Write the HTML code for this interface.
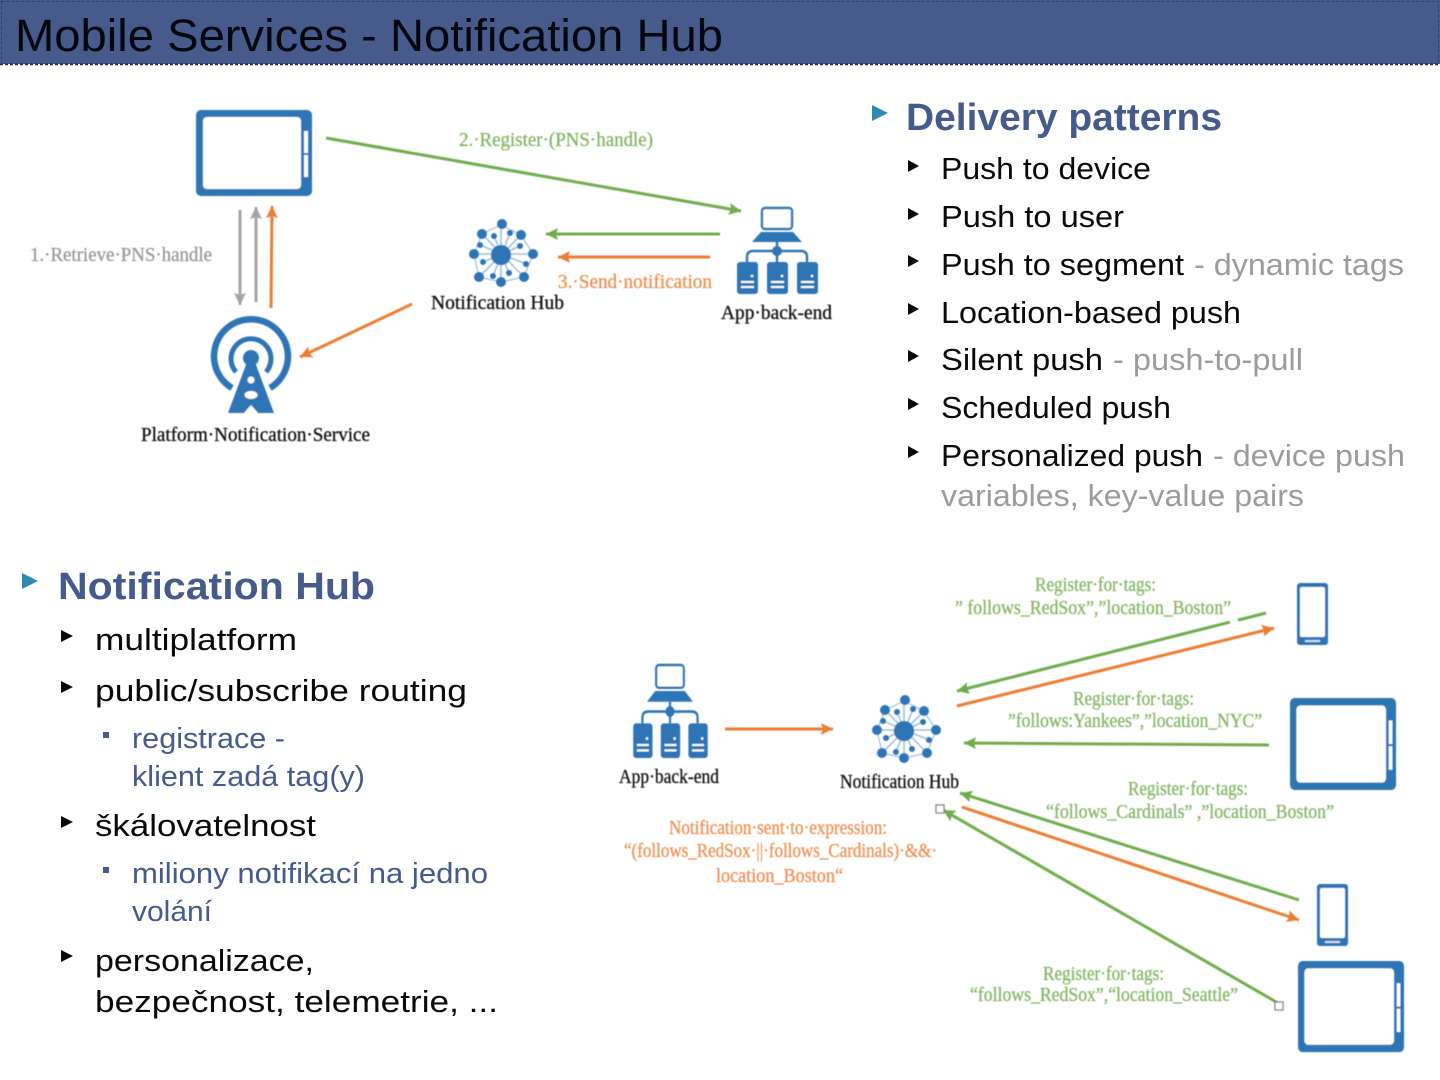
<!DOCTYPE html>
<html><head><meta charset="utf-8"><title>Mobile Services - Notification Hub</title>
<style>
html,body{margin:0;padding:0;background:#fff;width:1440px;height:1080px;overflow:hidden}
svg{display:block}
.h{font:38px "Liberation Sans",sans-serif;fill:#465a8c;font-weight:700}
.t{font:31px "Liberation Sans",sans-serif;fill:#0a0a0a}
.g{font:31px "Liberation Sans",sans-serif;fill:#9c9c9c}
.s{font:29px "Liberation Sans",sans-serif;fill:#465a8c}
.l{font:20px "Liberation Serif",serif;stroke-width:.3}
.k{fill:#111;stroke:#111}.gr{fill:#84b566;stroke:#84b566}.o{fill:#ee8f50;stroke:#ee8f50}.y{fill:#999;stroke:#999}
.ln{stroke-width:3;fill:none}
</style></head><body>
<svg width="1440" height="1080" viewBox="0 0 1440 1080" xmlns="http://www.w3.org/2000/svg">
<defs>
<marker id="ag" markerUnits="userSpaceOnUse" markerWidth="14" markerHeight="12" refX="12" refY="6" orient="auto"><path d="M0,0L12,6L0,12L2,6z" fill="#6fad4b"/></marker>
<marker id="ao" markerUnits="userSpaceOnUse" markerWidth="14" markerHeight="12" refX="12" refY="6" orient="auto"><path d="M0,0L12,6L0,12L2,6z" fill="#ed7d31"/></marker>
<marker id="ay" markerUnits="userSpaceOnUse" markerWidth="14" markerHeight="12" refX="12" refY="6" orient="auto"><path d="M0,0L12,6L0,12L2,6z" fill="#a5a5a5"/></marker>
<filter id="b" x="-5%" y="-5%" width="110%" height="110%"><feGaussianBlur stdDeviation="0.4"/></filter>
<g id="tablet">
<rect x="0" y="0" width="116" height="86" rx="5" fill="#2e75b6"/>
<rect x="7" y="7" width="98" height="72" rx="4" fill="#fff"/>
<rect x="108" y="21" width="4" height="22" fill="#fff"/><rect x="108" y="45" width="4" height="22" fill="#fff"/>
</g>
<g id="phone">
<rect x="0" y="0" width="31" height="62" rx="3" fill="#2e75b6"/>
<rect x="3" y="4" width="25" height="50" rx="2" fill="#fff"/>
<rect x="8" y="57" width="15" height="2" fill="#cfe0f0"/>
</g>
<g id="hub" fill="#2e75b6">
<g stroke="#9dc0e0" stroke-width="1.6" fill="none">
<path d="M0,-30V27M-27,-1H32M-19,-21L23,22M20,-20L-22,22"/>
<path d="M-7,-19L8,18M-21,-10L25,9M9,-22L-8,21M19,-9L-18,7"/>
<path d="M0,-30L20,-20L32,-1L23,22L0,27L-22,22L-27,-1L-19,-21z" stroke-width="1.2"/>
</g>
<circle r="10"/>
<circle cx="1" cy="-31" r="5"/><circle cx="20" cy="-20" r="5"/><circle cx="32" cy="-1" r="5"/><circle cx="23" cy="22" r="5"/>
<circle cx="0" cy="27" r="5"/><circle cx="-22" cy="22" r="5"/><circle cx="-27" cy="-1" r="5"/><circle cx="-19" cy="-21" r="5"/>
<circle cx="-7" cy="-19" r="3"/><circle cx="9" cy="-22" r="3"/><circle cx="19" cy="-9" r="3"/><circle cx="25" cy="9" r="3"/>
<circle cx="8" cy="18" r="3"/><circle cx="-8" cy="21" r="3"/><circle cx="-18" cy="7" r="3"/><circle cx="-21" cy="-10" r="3"/>
</g>
<g id="srv">
<rect x="0" y="0" width="21" height="32" rx="3" fill="#2e75b6"/>
<rect x="4" y="19" width="13" height="2" fill="#fff"/><rect x="4" y="24" width="13" height="2" fill="#fff"/>
<circle cx="15" cy="14" r="1.3" fill="#fff"/>
</g>
<g id="back">
<rect x="-15" y="1" width="30" height="21" rx="3" fill="#fff" stroke="#2e75b6" stroke-width="2.4"/>
<path d="M-16,25H16L25,35H-25z" fill="#2e75b6"/>
<path d="M0,35V42M-30,55V50Q-30,44 -24,44H24Q30,44 30,50V55M0,44V55" fill="none" stroke="#2e75b6" stroke-width="2.4"/>
<circle cy="44" r="5" fill="#2e75b6"/>
<use href="#srv" x="-40" y="55"/><use href="#srv" x="-10" y="55"/><use href="#srv" x="20" y="55"/>
</g>
</defs>

<!-- header -->
<rect width="1440" height="64" fill="#465a8c"/>
<rect x="1.5" y="1.5" width="1437" height="62" fill="none" stroke="#2f4170" stroke-dasharray="3 2"/>
<line x1="0" y1="64.5" x2="1440" y2="64.5" stroke="#1e2a4e" stroke-width="1.5" stroke-dasharray="3 2"/>
<text x="15" y="51" font-family="Liberation Sans,sans-serif" font-size="45" fill="#05070f" textLength="708" lengthAdjust="spacingAndGlyphs">Mobile Services - Notification Hub</text>

<!-- right list -->
<polygon points="872,105 888,113 872,121" fill="#2e8bb0"/>
<text class="h" x="906" y="130" textLength="316" lengthAdjust="spacingAndGlyphs">Delivery patterns</text>
<g fill="#0a0a0a">
<polygon points="908,160 919,166 908,172"/><polygon points="908,208 919,214 908,220"/><polygon points="908,255 919,261 908,267"/><polygon points="908,303 919,309 908,315"/><polygon points="908,350 919,356 908,362"/><polygon points="908,398 919,404 908,410"/><polygon points="908,446 919,452 908,458"/>
<polygon points="61,630 73,636 61,642"/><polygon points="61,681 73,687 61,693"/><polygon points="61,816 73,822 61,828"/><polygon points="61,950 73,956 61,962"/>
</g>
<text class="t" x="941" y="179" textLength="210" lengthAdjust="spacingAndGlyphs">Push to device</text>
<text class="t" x="941" y="227" textLength="183" lengthAdjust="spacingAndGlyphs">Push to user</text>
<text class="t" x="941" y="275" textLength="243" lengthAdjust="spacingAndGlyphs">Push to segment</text>
<text class="g" x="1194" y="275" textLength="210" lengthAdjust="spacingAndGlyphs">- dynamic tags</text>
<text class="t" x="941" y="323" textLength="300" lengthAdjust="spacingAndGlyphs">Location-based push</text>
<text class="t" x="941" y="370" textLength="162" lengthAdjust="spacingAndGlyphs">Silent push</text>
<text class="g" x="1113" y="370" textLength="190" lengthAdjust="spacingAndGlyphs">- push-to-pull</text>
<text class="t" x="941" y="418" textLength="230" lengthAdjust="spacingAndGlyphs">Scheduled push</text>
<text class="t" x="941" y="466" textLength="262" lengthAdjust="spacingAndGlyphs">Personalized push</text>
<text class="g" x="1213" y="466" textLength="192" lengthAdjust="spacingAndGlyphs">- device push</text>
<text class="g" x="941" y="506" textLength="363" lengthAdjust="spacingAndGlyphs">variables, key-value pairs</text>

<!-- left list -->
<polygon points="22,573 38,581 22,589" fill="#2e8bb0"/>
<text class="h" x="58" y="599" textLength="317" lengthAdjust="spacingAndGlyphs">Notification Hub</text>
<text class="t" x="95" y="650" textLength="202" lengthAdjust="spacingAndGlyphs">multiplatform</text>
<text class="t" x="95" y="701" textLength="372" lengthAdjust="spacingAndGlyphs">public/subscribe routing</text>
<rect x="103" y="732" width="6" height="6" fill="#465a8c"/>
<text class="s" x="132" y="748" textLength="153" lengthAdjust="spacingAndGlyphs">registrace -</text>
<text class="s" x="132" y="786" textLength="233" lengthAdjust="spacingAndGlyphs">klient zadá tag(y)</text>
<text class="t" x="95" y="836" textLength="221" lengthAdjust="spacingAndGlyphs">škálovatelnost</text>
<rect x="103" y="867" width="6" height="6" fill="#465a8c"/>
<text class="s" x="132" y="883" textLength="356" lengthAdjust="spacingAndGlyphs">miliony notifikací na jedno</text>
<text class="s" x="132" y="921" textLength="80" lengthAdjust="spacingAndGlyphs">volání</text>
<text class="t" x="95" y="971" textLength="219" lengthAdjust="spacingAndGlyphs">personalizace,</text>
<text class="t" x="95" y="1012" textLength="403" lengthAdjust="spacingAndGlyphs">bezpečnost, telemetrie, ...</text>

<!-- diagrams -->
<g filter="url(#b)">
<use href="#tablet" x="196" y="110"/>
<!-- tower -->
<g fill="none" stroke="#2e75b6">
<path d="M232,388A37,37 0 1 1 270,388" stroke-width="6.5"/>
<path d="M236,372A20,20 0 1 1 266,372" stroke-width="5"/>
</g>
<circle cx="251" cy="358" r="8" fill="#2e75b6"/>
<path d="M247,362H255L274,413H228z" fill="#2e75b6"/>
<ellipse cx="251" cy="380" rx="3.5" ry="3.5" fill="#fff"/><ellipse cx="251" cy="395" rx="6.5" ry="4" fill="#fff"/>
<path d="M251,405L258,413H244z" fill="#fff"/>

<use href="#hub" x="501" y="255"/>
<use href="#back" x="777" y="207"/>

<line class="ln" x1="326" y1="138" x2="741" y2="211" stroke="#6fad4b" marker-end="url(#ag)"/>
<line class="ln" x1="240" y1="210" x2="240" y2="305" stroke="#a5a5a5" marker-end="url(#ay)"/>
<line class="ln" x1="256" y1="302" x2="256" y2="207" stroke="#a5a5a5" marker-end="url(#ay)"/>
<line class="ln" x1="271" y1="308" x2="272" y2="206" stroke="#ed7d31" marker-end="url(#ao)"/>
<line class="ln" x1="412" y1="304" x2="300" y2="357" stroke="#ed7d31" marker-end="url(#ao)"/>
<line class="ln" x1="720" y1="234" x2="546" y2="234" stroke="#6fad4b" marker-end="url(#ag)"/>
<line class="ln" x1="710" y1="257" x2="558" y2="257" stroke="#ed7d31" marker-end="url(#ao)"/>

<text class="l gr" x="459" y="146" textLength="194" lengthAdjust="spacingAndGlyphs">2.·Register·(PNS·handle)</text>
<text class="l y" x="30" y="261" textLength="182" lengthAdjust="spacingAndGlyphs">1.·Retrieve·PNS·handle</text>
<text class="l k" x="431" y="309" textLength="133" lengthAdjust="spacingAndGlyphs">Notification Hub</text>
<text class="l o" x="558" y="288" textLength="154" lengthAdjust="spacingAndGlyphs">3.·Send·notification</text>
<text class="l k" x="721" y="319" textLength="111" lengthAdjust="spacingAndGlyphs">App·back-end</text>
<text class="l k" x="141" y="441" textLength="229" lengthAdjust="spacingAndGlyphs">Platform·Notification·Service</text>

<!-- bottom -->
<g transform="translate(670,664) scale(.92,1.08)"><use href="#back"/></g>
<use href="#hub" x="904" y="731"/>
<use href="#phone" x="1297" y="583"/>
<use href="#phone" x="1317" y="884"/>
<use href="#tablet" transform="translate(1290,698) scale(.914,1.07)"/>
<use href="#tablet" transform="translate(1298,961) scale(.914,1.06)"/>

<line class="ln" x1="725" y1="729" x2="833" y2="729" stroke="#ed7d31" marker-end="url(#ao)"/>
<line class="ln" x1="1266" y1="613" x2="957" y2="691" stroke="#6fad4b" marker-end="url(#ag)"/>
<line x1="1238" y1="620.5" x2="1230" y2="622.5" stroke="#fff" stroke-width="4"/>
<line class="ln" x1="957" y1="706" x2="1274" y2="628" stroke="#ed7d31" marker-end="url(#ao)"/>
<line class="ln" x1="1269" y1="745" x2="964" y2="743" stroke="#6fad4b" marker-end="url(#ag)"/>
<line class="ln" x1="1299" y1="900" x2="960" y2="793" stroke="#6fad4b" marker-end="url(#ag)"/>
<line class="ln" x1="962" y1="807" x2="1299" y2="920" stroke="#ed7d31" marker-end="url(#ao)"/>
<line class="ln" x1="1278" y1="1003" x2="943" y2="810" stroke="#6fad4b" marker-end="url(#ag)"/>
<rect x="936" y="805" width="8" height="8" fill="#fff" stroke="#777" stroke-width="1.2"/>
<rect x="1275" y="1002" width="8" height="8" fill="#fff" stroke="#777" stroke-width="1.2"/>

<text class="l gr" x="1035" y="591" textLength="121" lengthAdjust="spacingAndGlyphs">Register·for·tags:</text>
<text class="l gr" x="955" y="614" textLength="276" lengthAdjust="spacingAndGlyphs">” follows_RedSox”,”location_Boston”</text>
<text class="l gr" x="1073" y="705" textLength="121" lengthAdjust="spacingAndGlyphs">Register·for·tags:</text>
<text class="l gr" x="1008" y="727" textLength="254" lengthAdjust="spacingAndGlyphs">”follows:Yankees”,”location_NYC”</text>
<text class="l gr" x="1128" y="795" textLength="120" lengthAdjust="spacingAndGlyphs">Register·for·tags:</text>
<text class="l gr" x="1046" y="818" textLength="288" lengthAdjust="spacingAndGlyphs">“follows_Cardinals” ,”location_Boston”</text>
<text class="l gr" x="1043" y="980" textLength="121" lengthAdjust="spacingAndGlyphs">Register·for·tags:</text>
<text class="l gr" x="970" y="1001" textLength="268" lengthAdjust="spacingAndGlyphs">“follows_RedSox”,“location_Seattle”</text>
<text class="l k" x="619" y="783" textLength="100" lengthAdjust="spacingAndGlyphs">App·back-end</text>
<text class="l k" x="840" y="788" textLength="119" lengthAdjust="spacingAndGlyphs">Notification Hub</text>
<text class="l o" x="669" y="834" textLength="218" lengthAdjust="spacingAndGlyphs">Notification·sent·to·expression:</text>
<text class="l o" x="624" y="857" textLength="313" lengthAdjust="spacingAndGlyphs">“(follows_RedSox·||·follows_Cardinals)·&amp;&amp;·</text>
<text class="l o" x="716" y="882" textLength="127" lengthAdjust="spacingAndGlyphs">location_Boston“</text>
</g>
</svg>
</body></html>
